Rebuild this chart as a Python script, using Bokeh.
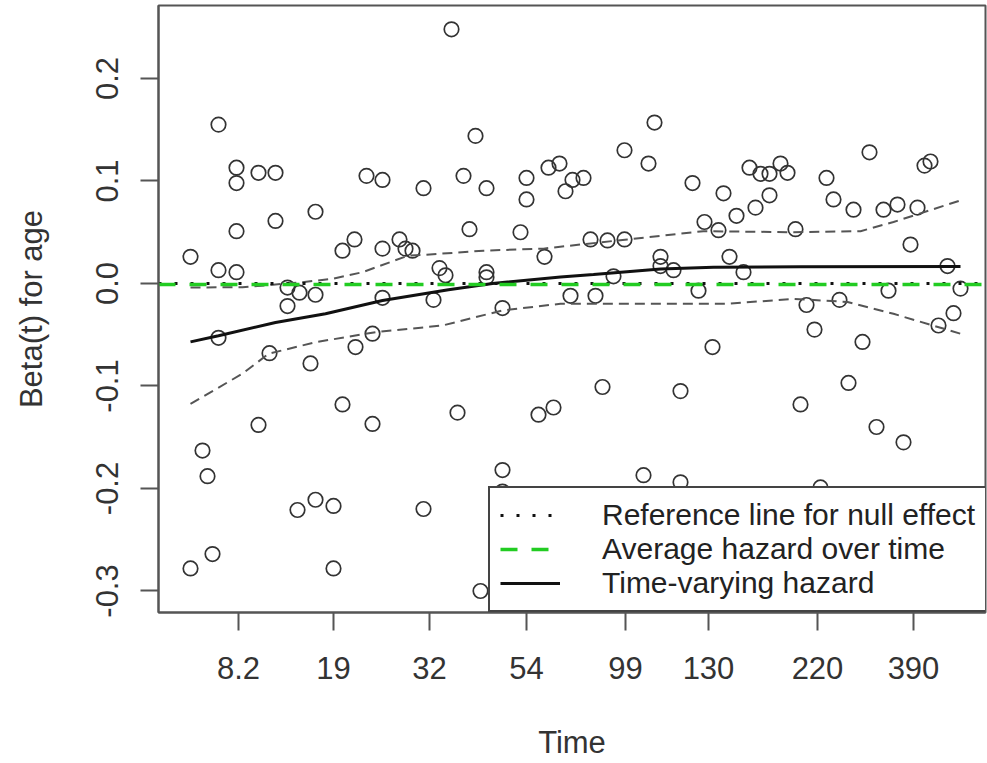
from bokeh.plotting import figure
from bokeh.models import (Range1d, FixedTicker, PrintfTickFormatter, Legend, LegendItem)
from bokeh.embed import file_html
from bokeh.resources import INLINE

# ---------------- data ----------------
# x is the (transformed) time scale; tick labels give the original times
x_tick_pos = [0.80, 1.75, 2.71, 3.68, 4.67, 5.50, 6.59, 7.55]
x_tick_labels = ["8.2", "19", "32", "54", "99", "130", "220", "390"]
y_ticks = [-0.3, -0.2, -0.1, 0.0, 0.1, 0.2]

resid_x = [0.32, 0.32, 0.44, 0.49, 0.54, 0.60, 0.60, 0.60, 0.78, 0.78,
           0.78, 0.78, 1.00, 1.00, 1.17, 1.17, 1.11, 1.29, 1.29, 1.41,
           1.39, 1.52, 1.57, 1.57, 1.57, 1.75, 1.75, 1.84, 1.84, 1.96,
           1.97, 2.08, 2.14, 2.14, 2.24, 2.24, 2.24, 2.41, 2.47, 2.54,
           2.65, 2.65, 2.75, 2.81, 2.87, 2.93, 2.99, 3.05, 3.11, 3.17,
           3.22, 3.28, 3.28, 3.28, 3.44, 3.44, 3.44, 3.62, 3.68, 3.68,
           3.80, 3.86, 3.90, 3.95, 4.01, 4.07, 4.12, 4.14, 4.25, 4.32,
           4.37, 4.44, 4.49, 4.55, 4.66, 4.66, 4.85, 4.90, 4.96, 5.02,
           5.02, 5.15, 5.22, 5.22, 5.34, 5.40, 5.46, 5.54, 5.60, 5.65,
           5.71, 5.78, 5.85, 5.91, 5.97, 6.02, 6.11, 6.11, 6.22, 6.29,
           6.37, 6.42, 6.48, 6.56, 6.62, 6.68, 6.75, 6.81, 6.90, 6.95,
           7.04, 7.11, 7.18, 7.25, 7.30, 7.39, 7.45, 7.52, 7.59, 7.66,
           7.72, 7.80, 7.89, 7.95, 8.02]
resid_y = [0.026, -0.278, -0.163, -0.188, -0.264, 0.155, 0.013, -0.053, 0.113, 0.098,
           0.051, 0.011, 0.108, -0.138, 0.108, 0.061, -0.068, -0.022, -0.004, -0.009,
           -0.221, -0.078, 0.070, -0.011, -0.211, -0.217, -0.278, 0.032, -0.118, 0.043,
           -0.062, 0.105, -0.049, -0.137, 0.101, 0.034, -0.014, 0.043, 0.034, 0.032,
           0.093, -0.220, -0.016, 0.015, 0.008, 0.248, -0.126, 0.105, 0.053, 0.144,
           -0.300, 0.093, 0.011, 0.006, -0.024, -0.182, -0.203, 0.050, 0.103, 0.082,
           -0.128, 0.026, 0.113, -0.121, 0.117, 0.090, -0.012, 0.101, 0.103, 0.043,
           -0.012, -0.101, 0.042, 0.007, 0.130, 0.043, -0.187, 0.117, 0.157, 0.026,
           0.017, 0.013, -0.105, -0.194, 0.098, -0.007, 0.060, -0.062, 0.052, 0.088,
           0.026, 0.066, 0.011, 0.113, 0.074, 0.107, 0.086, 0.107, 0.117, 0.108,
           0.053, -0.118, -0.021, -0.045, -0.199, 0.103, 0.082, -0.016, -0.097, 0.072,
           -0.057, 0.128, -0.140, 0.072, -0.007, 0.077, -0.155, 0.038, 0.074, 0.115,
           0.119, -0.041, 0.017, -0.029, -0.005]

fit_x = [0.32, 0.60, 1.17, 1.67, 2.24, 2.90, 3.34, 4.02, 4.35, 5.02, 5.55, 6.42, 8.02]
fit_y = [-0.057, -0.051, -0.038, -0.0296, -0.0166, -0.0061, 0.0, 0.0063, 0.0088,
         0.0141, 0.0159, 0.0163, 0.0166]

upper_x = [0.32, 0.84, 1.42, 1.74, 2.04, 2.50, 2.67, 3.25, 3.85, 4.69, 5.45, 6.35,
           7.02, 7.35, 8.02]
upper_y = [-0.004, -0.0036, 0.001, 0.0046, 0.011, 0.0273, 0.028, 0.032, 0.034,
           0.043, 0.051, 0.050, 0.051, 0.060, 0.081]

lower_x = [0.32, 0.84, 1.10, 1.57, 2.17, 2.84, 3.44, 4.02, 5.69, 6.35, 6.89, 7.35, 8.02]
lower_y = [-0.1174, -0.088, -0.0686, -0.0573, -0.0475, -0.041, -0.0263, -0.0198,
           -0.0198, -0.015, -0.018, -0.0296, -0.049]

x_limits = [0.0, 8.27]
y_limits = [-0.321, 0.2712]
null_effect = 0.0
average_beta = -0.001

legend_labels = ["Reference line for null effect", "Average hazard over time",
                 "Time-varying hazard"]

# ---------------- plot ----------------
FONT = "Liberation Sans"
AX = "#555555"

p = figure(width=987, height=763,
           x_range=Range1d(*x_limits), y_range=Range1d(*y_limits),
           output_backend="svg", toolbar_location=None,
           min_border_left=158, min_border_right=2, min_border_top=5,
           min_border_bottom=151)

p.xgrid.visible = False
p.ygrid.visible = False
p.outline_line_color = AX
p.outline_line_width = 2
p.outline_line_alpha = 1
p.background_fill_color = "white"
p.border_fill_color = "white"

p.xaxis.ticker = FixedTicker(ticks=x_tick_pos)
p.xaxis.major_label_overrides = {float(k): v for k, v in zip(x_tick_pos, x_tick_labels)}
p.yaxis.ticker = FixedTicker(ticks=y_ticks)
p.yaxis.formatter = PrintfTickFormatter(format="%.1f")
p.yaxis.major_label_orientation = "vertical"

for ax in (p.xaxis[0], p.yaxis[0]):
    ax.axis_line_color = AX
    ax.axis_line_width = 2
    ax.major_tick_line_color = AX
    ax.major_tick_line_width = 2
    ax.major_tick_out = 18
    ax.major_tick_in = 0
    ax.minor_tick_line_color = None
    ax.major_label_text_font = FONT
    ax.major_label_text_font_size = "31px"
    ax.major_label_text_color = "#333333"
    ax.axis_label_text_font = FONT
    ax.axis_label_text_font_size = "31px"
    ax.axis_label_text_font_style = "normal"
    ax.axis_label_text_color = "#333333"

p.xaxis.axis_label = "Time"
p.yaxis.axis_label = "Beta(t) for age"
p.xaxis.major_label_standoff = 26
p.xaxis.axis_label_standoff = 43
p.yaxis.major_label_standoff = 22
p.yaxis.axis_label_standoff = 45

# residual points
p.scatter(resid_x, resid_y, marker="circle", size=14.5, fill_color=None,
          line_color="#333333", line_width=1.7)

# confidence band (dashed)
p.line(upper_x, upper_y, line_color="#555555", line_width=2, line_dash="10 6")
p.line(lower_x, lower_y, line_color="#555555", line_width=2, line_dash="10 6")

# fitted time-varying beta
r_fit = p.line(fit_x, fit_y, line_color="#111111", line_width=3)

# reference lines
r_null = p.line(x_limits, [null_effect, null_effect], line_color="#111111",
                line_width=3, line_dash="3 13")
r_avg = p.line(x_limits, [average_beta, average_beta], line_color="#22cc22",
               line_width=3.5, line_dash="17 14")

legend = Legend(items=[LegendItem(label=legend_labels[0], renderers=[r_null]),
                       LegendItem(label=legend_labels[1], renderers=[r_avg]),
                       LegendItem(label=legend_labels[2], renderers=[r_fit])],
                location=(330, 0))
legend.label_text_font = FONT
legend.label_text_font_size = "30px"
legend.label_text_color = "#222222"
legend.border_line_color = "#444444"
legend.border_line_width = 2
legend.border_line_alpha = 1
legend.background_fill_color = "white"
legend.background_fill_alpha = 1
legend.glyph_width = 60
legend.glyph_height = 30
legend.label_height = 30
legend.spacing = 0
legend.padding = 10
legend.margin = 0
legend.label_standoff = 42
p.add_layout(legend)

open("out.html", "w").write(file_html(p, INLINE))
